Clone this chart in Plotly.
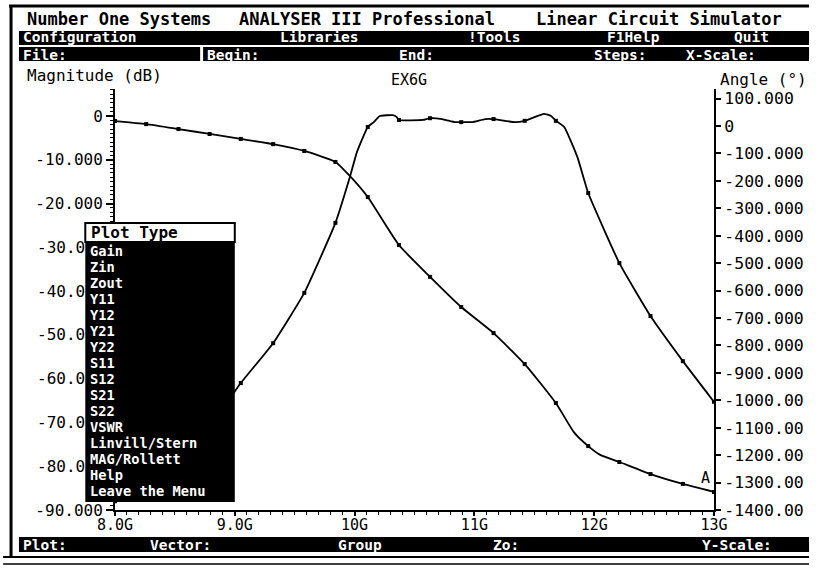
import plotly.graph_objects as go

# ---------------- data ----------------
# sample points (dots) of the analysis sweep, GHz
freq_pts = [8.00, 8.26, 8.53, 8.79, 9.05, 9.32, 9.58, 9.84, 10.11, 10.37,
            10.63, 10.89, 11.16, 11.42, 11.68, 11.95, 12.21, 12.47, 12.74, 13.00]
mag_pts = [-88.0, -84.0, -78.0, -71.0, -61.0, -51.9, -40.4, -24.4, -2.5, -0.9,
           -0.5, -1.4, -0.7, -1.1, -1.1, -17.6, -33.6, -45.7, -56.0, -65.3]
phase_pts = [18, 7, -11, -29, -47, -66, -91, -131, -259, -434,
             -550, -660, -755, -868, -1010, -1167, -1225, -1269, -1305, -1334]

# densely computed curves drawn between the dots
mag_line_f = [8.00, 8.26, 8.53, 8.79, 9.05, 9.32, 9.58, 9.84, 9.96, 10.02, 10.11,
              10.16, 10.21, 10.32, 10.35, 10.37, 10.57, 10.63, 10.73, 10.84, 10.89,
              10.98, 11.09, 11.16, 11.34, 11.42, 11.48, 11.58, 11.64, 11.68, 11.75,
              11.86, 11.95, 12.21, 12.47, 12.74, 13.00]
mag_line_db = [-88.0, -84.0, -78.0, -71.0, -61.0, -51.9, -40.4, -24.4, -14.0, -8.2, -2.5,
               -1.4, 0.0, 0.2, -0.2, -0.9, -0.9, -0.5, -0.7, -1.4, -1.4,
               -1.4, -0.7, -0.7, -1.4, -1.1, -0.5, 0.5, 0.0, -1.1, -2.5,
               -9.4, -17.6, -33.6, -45.7, -56.0, -65.3]
ph_line_f = [8.00, 8.26, 8.53, 8.79, 9.05, 9.32, 9.58, 9.84, 9.96, 10.11, 10.37,
             10.63, 10.89, 11.16, 11.42, 11.68, 11.83, 11.95, 12.05, 12.21, 12.47,
             12.74, 13.00]
ph_line_deg = [18, 7, -11, -29, -47, -66, -91, -131, -182, -259, -434,
               -550, -660, -755, -868, -1010, -1116, -1167, -1199, -1225, -1269,
               -1305, -1334]

x_ticks = [8, 9, 10, 11, 12, 13]
x_ticktext = ["8.0G", "9.0G", "10G", "11G", "12G", "13G"]
y_ticks = [0, -10, -20, -30, -40, -50, -60, -70, -80, -90]
y_ticktext = ["0", "-10.000", "-20.000", "", "", "", "", "", "", "-90.000"]
# labels partly hidden behind the pop-up menu: only their visible part is shown
y_hidden_vals = [-30, -40, -50, -60, -70, -80]
y_hidden_text = ["-30.0", "-40.0", "-50.0", "-60.0", "-70.0", "-80.0"]
y2_ticks = [100, 0, -100, -200, -300, -400, -500, -600, -700, -800, -900,
            -1000, -1100, -1200, -1300, -1400]
y2_ticktext = ["100.000", "0", "-100.000", "-200.000", "-300.000", "-400.000",
               "-500.000", "-600.000", "-700.000", "-800.000", "-900.000",
               "-1000.00", "-1100.00", "-1200.00", "-1300.00", "-1400.00"]

menu_items = ["Gain", "Zin", "Zout", "Y11", "Y12", "Y21", "Y22", "S11", "S12",
              "S21", "S22", "VSWR", "Linvill/Stern", "MAG/Rollett", "Help",
              "Leave the Menu"]

# ---------------- geometry ----------------
W, H = 816, 571
L, R, T, B = 115, 96, 89, 61
PW, PH = W - L - R, H - T - B
MONO = "DejaVu Sans Mono"


def px(x):
    return (x - L) / PW


def py(y):
    return (H - B - y) / PH


fig = go.Figure()
fig.add_trace(go.Scatter(x=mag_line_f, y=mag_line_db, mode="lines",
                         line=dict(color="black", width=1.8, shape="spline", smoothing=0.4),
                         yaxis="y", showlegend=False, hoverinfo="skip"))
fig.add_trace(go.Scatter(x=freq_pts, y=mag_pts, mode="markers",
                         marker=dict(color="black", size=4, symbol="square"),
                         yaxis="y", showlegend=False))
fig.add_trace(go.Scatter(x=ph_line_f, y=ph_line_deg, mode="lines",
                         line=dict(color="black", width=1.8, shape="spline", smoothing=0.5),
                         yaxis="y2", showlegend=False, hoverinfo="skip"))
fig.add_trace(go.Scatter(x=freq_pts, y=phase_pts, mode="markers",
                         marker=dict(color="black", size=4, symbol="square"),
                         yaxis="y2", showlegend=False))

shapes = []
annotations = []


def rect(x0, y0, x1, y1, fill="black", lw=0, lc="black"):
    shapes.append(dict(type="rect", xref="paper", yref="paper",
                       x0=px(x0), x1=px(x1), y0=py(y1), y1=py(y0),
                       fillcolor=fill, line=dict(width=lw, color=lc), layer="above"))


def hline(x0, x1, y, w=2):
    shapes.append(dict(type="line", xref="paper", yref="paper",
                       x0=px(x0), x1=px(x1), y0=py(y), y1=py(y),
                       line=dict(width=w, color="black"), layer="above"))


def vline(x, y0, y1, w=2):
    shapes.append(dict(type="line", xref="paper", yref="paper",
                       x0=px(x), x1=px(x), y0=py(y0), y1=py(y1),
                       line=dict(width=w, color="black"), layer="above"))


def text(x, y, s, color="black", size=16, bold=True, anchor="left"):
    annotations.append(dict(xref="paper", yref="paper", x=px(x), y=py(y),
                            text=("<b>%s</b>" % s) if bold else s,
                            showarrow=False, xanchor=anchor, yanchor="middle",
                            font=dict(family=MONO, size=size, color=color)))


# outer frame
hline(8, 816, 6, 3)
vline(10, 5, 558, 3)
hline(2, 816, 557, 2)
hline(2, 816, 564, 1.5)

# header rows
text(24, 19, "Number One Systems", size=17)
text(238, 19, "ANALYSER III Professional", size=17)
text(538, 19, "Linear Circuit Simulator", size=17)
rect(18, 31, 816, 45)
text(20, 37.5, "Configuration", "white", size=14.5)
text(280, 37.5, "Libraries", "white", size=14.5)
text(470, 37.5, "!Tools", "white", size=14.5)
text(610, 37.5, "F1Help", "white", size=14.5)
text(738, 37.5, "Quit", "white", size=14.5)
rect(18, 47, 201, 61)
rect(204, 47, 816, 61)
text(20, 54.5, "File:", "white", size=14.5)
text(206, 54.5, "Begin:", "white", size=14.5)
text(400, 54.5, "End:", "white", size=14.5)
text(597, 54.5, "Steps:", "white", size=14.5)
text(690, 54.5, "X-Scale:", "white", size=14.5)

# chart titles
text(24, 76, "Magnitude (dB)", size=16, bold=False)
text(412, 80, "EX6G", size=15, bold=False, anchor="center")
text(816, 80, "Angle (°)", size=16, bold=False, anchor="right")
annotations.append(dict(xref="x", yref="y2", x=13, y=-1285, text="A",
                        showarrow=False, xanchor="right", yanchor="middle", xshift=-2,
                        font=dict(family=MONO, size=15, color="black")))

# partly hidden left tick labels
for v, s in zip(y_hidden_vals, y_hidden_text):
    annotations.append(dict(xref="paper", yref="y", x=px(34), y=v, text=s,
                            showarrow=False, xanchor="left", yanchor="middle",
                            font=dict(family=MONO, size=16, color="black")))

# bottom status bar
rect(18, 537, 816, 552)
text(20, 545, "Plot:", "white", size=14.5)
text(148, 545, "Vector:", "white", size=14.5)
text(338, 545, "Group", "white", size=14.5)
text(495, 545, "Zo:", "white", size=14.5)
text(706, 545, "Y-Scale:", "white", size=14.5)

# Plot Type pop-up menu
rect(85, 223, 236, 242, fill="white", lw=2)
text(89, 232, "Plot Type", size=16)
rect(85, 242, 236, 502)
for i, item in enumerate(menu_items):
    text(88, 251 + 16.0 * i, item, "white", size=13.7)

axis_font = dict(family=MONO, size=16, color="black")
fig.update_layout(
    width=W, height=H,
    margin=dict(l=L, r=R, t=T, b=B),
    paper_bgcolor="white", plot_bgcolor="white",
    showlegend=False,
    xaxis=dict(range=[8, 13], showline=True, linecolor="black", linewidth=2,
               ticks="outside", ticklen=4, tickwidth=1.5, tickcolor="black",
               tickvals=x_ticks, ticktext=x_ticktext, ticklabelstandoff=-4,
               tickfont=dict(family=MONO, size=15, color="black"),
               showgrid=False, zeroline=False,
               minor=dict(dtick=0.1, ticklen=3, tickwidth=1, tickcolor="black",
                          ticks="outside", showgrid=False)),
    yaxis=dict(range=[-90, 6.17], showline=True, linecolor="black", linewidth=2,
               ticks="outside", ticklen=7, tickwidth=1.5, tickcolor="black",
               tickvals=y_ticks, ticktext=y_ticktext, tickfont=axis_font,
               showgrid=False, zeroline=False,
               minor=dict(dtick=1, ticklen=3, tickwidth=1, tickcolor="black",
                          ticks="outside", showgrid=False)),
    yaxis2=dict(range=[-1400, 135], overlaying="y", side="right", showline=True,
                linecolor="black", linewidth=2, ticks="outside", ticklen=5,
                tickwidth=1.5, tickcolor="black", tickvals=y2_ticks,
                ticktext=y2_ticktext,
                tickfont=dict(family=MONO, size=16.5, color="black"),
                showgrid=False, zeroline=False),
    shapes=shapes,
    annotations=annotations,
)

fig.write_html("out.html", config={"displayModeBar": False},
               post_script="document.body.style.margin='0';document.body.style.padding='0';")
